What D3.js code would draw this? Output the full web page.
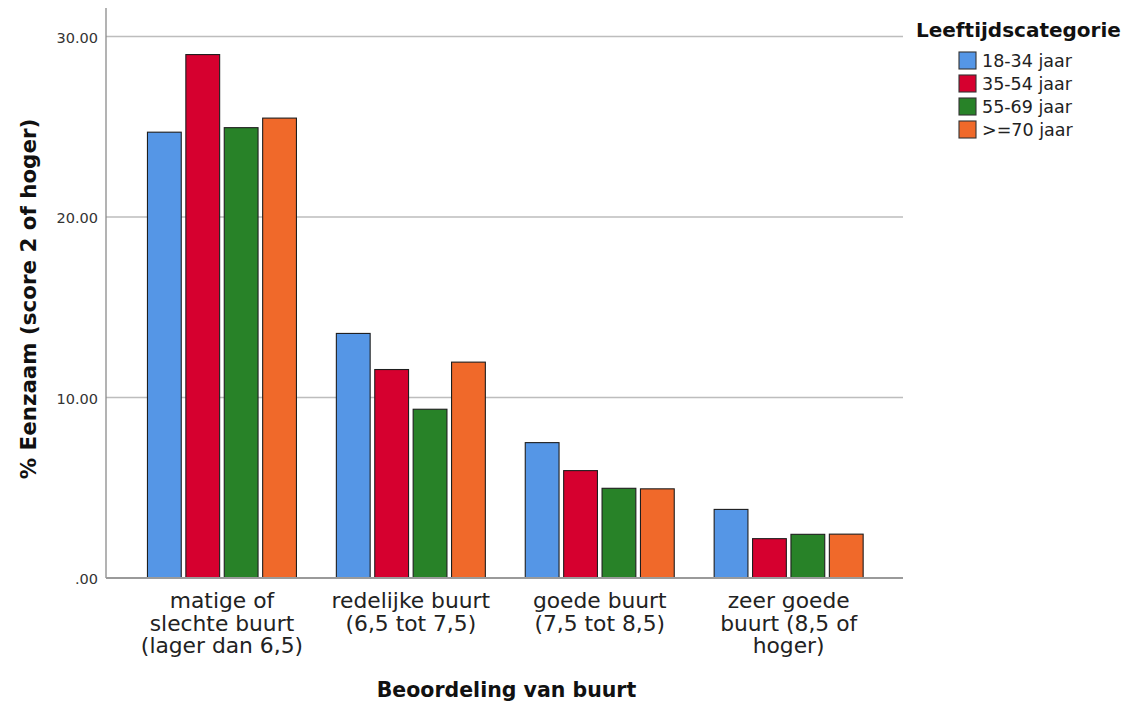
<!DOCTYPE html>
<html>
<head>
<meta charset="utf-8">
<script src="https://cdn.jsdelivr.net/npm/d3@7"></script>
<style>
  html, body { margin: 0; padding: 0; background: #fff; }
  svg { display: block; font-family: "DejaVu Sans", sans-serif; }
</style>
</head>
<body>
<svg id="chart" width="1131" height="707"></svg>
<script>
// ---- data ----
const categories = [
  "matige of|slechte buurt|(lager dan 6,5)",
  "redelijke buurt|(6,5 tot 7,5)",
  "goede buurt|(7,5 tot 8,5)",
  "zeer goede|buurt (8,5 of|hoger)"
];
const seriesNames = ["18-34 jaar", "35-54 jaar", "55-69 jaar", ">=70 jaar"];
const s1834 = [24.7, 13.55, 7.5, 3.8];
const s3554 = [29.0, 11.55, 5.95, 2.18];
const s5569 = [24.95, 9.35, 4.97, 2.42];
const s70 = [25.48, 11.96, 4.94, 2.43];
const seriesValues = [s1834, s3554, s5569, s70];
const seriesColors = ["#5596e6", "#d6002f", "#288228", "#f0692a"];
const yTicks = [0, 10, 20, 30];
const yMax = 31.58;
const yTitle = "% Eenzaam (score 2 of hoger)";
const xTitle = "Beoordeling van buurt";
const legendTitle = "Leeftijdscategorie";

// ---- layout ----
const svg = d3.select("#chart");
const plotLeft = 106, plotRight = 903, plotTop = 8, plotBottom = 578;

const x0 = d3.scaleBand().domain(categories).range([127.5, 883.1]).padding(0);
const innerW = 153.6;
const innerOff = (x0.bandwidth() - innerW) / 2;
const x1 = d3.scaleBand().domain(seriesNames).range([innerOff, innerOff + innerW])
  .paddingInner(0.12).paddingOuter(0.06);
const y = d3.scaleLinear().domain([0, yMax]).range([plotBottom, plotTop]);
const color = d3.scaleOrdinal().domain(seriesNames).range(seriesColors);

// gridlines
svg.append("g").selectAll("line").data(yTicks.filter(d => d > 0)).join("line")
  .attr("x1", plotLeft).attr("x2", plotRight)
  .attr("y1", d => y(d)).attr("y2", d => y(d))
  .attr("stroke", "#bdbdbd").attr("stroke-width", 1.3);

// bars
const groups = svg.append("g").selectAll("g").data(categories).join("g")
  .attr("transform", d => `translate(${x0(d)},0)`);
groups.selectAll("rect")
  .data((c, ci) => seriesNames.map((s, si) => ({ s, v: seriesValues[si][ci] })))
  .join("rect")
  .attr("x", d => x1(d.s))
  .attr("width", x1.bandwidth())
  .attr("y", d => y(d.v))
  .attr("height", d => y(0) - y(d.v))
  .attr("fill", d => color(d.s))
  .attr("stroke", "#1e1e1e")
  .attr("stroke-width", 1.1);

// y axis
const yAxis = d3.axisLeft(y).tickValues(yTicks).tickSize(0).tickPadding(8)
  .tickFormat(d => d === 0 ? ".00" : d3.format(".2f")(d));
const gy = svg.append("g").attr("transform", `translate(${plotLeft},0)`).call(yAxis);
gy.select(".domain").remove();
gy.selectAll("text").attr("font-family", "DejaVu Sans").attr("font-size", 14.5)
  .attr("fill", "#333").attr("dy", "0.38em");
svg.append("line").attr("x1", plotLeft).attr("x2", plotLeft)
  .attr("y1", plotTop).attr("y2", plotBottom)
  .attr("stroke", "#8a8a8a").attr("stroke-width", 1.3);

// x axis
const xAxis = d3.axisBottom(x0).tickSize(0).tickFormat("");
const gx = svg.append("g").attr("transform", `translate(0,${plotBottom})`).call(xAxis);
gx.select(".domain").remove();
svg.append("line").attr("x1", plotLeft).attr("x2", plotRight)
  .attr("y1", plotBottom).attr("y2", plotBottom)
  .attr("stroke", "#9a9a9a").attr("stroke-width", 2);

gx.selectAll(".tick").each(function(d) {
  const t = d3.select(this).append("text")
    .attr("text-anchor", "middle")
    .attr("font-family", "DejaVu Sans")
    .attr("font-size", 21.8)
    .attr("fill", "#222");
  d.split("|").forEach((line, i) => {
    t.append("tspan").attr("x", 0).attr("y", 30 + i * 22.7).text(line);
  });
});

// axis titles
svg.append("text")
  .attr("transform", `translate(36,${(plotTop + plotBottom) / 2 + 6}) rotate(-90)`)
  .attr("text-anchor", "middle")
  .attr("font-family", "DejaVu Sans").attr("font-weight", "bold")
  .attr("font-size", 21.4).attr("fill", "#111")
  .text(yTitle);

svg.append("text")
  .attr("x", (plotLeft + plotRight) / 2 + 2).attr("y", 697)
  .attr("text-anchor", "middle")
  .attr("font-family", "DejaVu Sans").attr("font-weight", "bold")
  .attr("font-size", 20.5).attr("fill", "#111")
  .text(xTitle);

// legend
const lg = svg.append("g");
lg.append("text").attr("x", 916).attr("y", 37)
  .attr("font-family", "DejaVu Sans").attr("font-weight", "bold")
  .attr("font-size", 20).attr("fill", "#111")
  .text(legendTitle);
const items = lg.selectAll("g.item").data(seriesNames).join("g")
  .attr("class", "item")
  .attr("transform", (d, i) => `translate(959,${52 + i * 23})`);
items.append("rect").attr("width", 17).attr("height", 17)
  .attr("fill", d => color(d)).attr("stroke", "#333").attr("stroke-width", 1.1);
items.append("text").attr("x", 23).attr("y", 15)
  .attr("font-family", "DejaVu Sans").attr("font-size", 17.5).attr("fill", "#222")
  .text(d => d);
</script>
</body>
</html>
